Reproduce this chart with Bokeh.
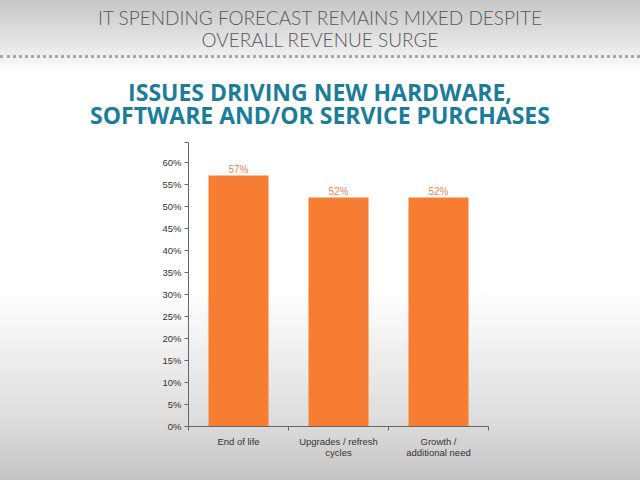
from bokeh.plotting import figure
from bokeh.models import Div, FixedTicker, PrintfTickFormatter, Range1d, ColumnDataSource
from bokeh.layouts import column
from bokeh.core.properties import value
from bokeh.embed import file_html
from bokeh.resources import INLINE

header_lines = ["IT SPENDING FORECAST REMAINS MIXED DESPITE", "OVERALL REVENUE SURGE"]
title_lines = ["ISSUES DRIVING NEW HARDWARE,", "SOFTWARE AND/OR SERVICE PURCHASES"]
categories = ["End of life", "Upgrades / refresh\ncycles", "Growth /\nadditional need"]
values = [57, 52, 52]
value_labels = ["57%", "52%", "52%"]
y_ticks = [0, 5, 10, 15, 20, 25, 30, 35, 40, 45, 50, 55, 60]
y_max = 64.5

BAR = "#F77D32"


def line_div(txt, top, font, size, weight, color, lh):
    return ('<div style="position:absolute;left:0;top:%dpx;width:640px;height:%dpx;'
            'text-align:center;white-space:nowrap;font-family:%s;font-weight:%s;'
            'font-size:%dpx;line-height:%dpx;color:%s;">%s</div>'
            % (top, lh, font, weight, size, lh, color, txt))


header_html = (
    '<div style="position:relative;width:640px;height:62px;">'
    + line_div(header_lines[0], 7, "Lato", 19, "300", "#585858", 22)
    + line_div(header_lines[1], 29, "Lato", 19, "300", "#585858", 22)
    + '<div style="position:absolute;left:0;top:55px;width:640px;height:0;border-top:3px dotted #a8a8a8;"></div>'
    '</div>'
)
title_html = (
    '<div style="position:relative;width:640px;height:68px;">'
    + line_div(title_lines[0], 19, "'Open Sans'", 23, "bold", "#1B7D99", 23)
    + line_div(title_lines[1], 42, "'Open Sans'", 23, "bold", "#1B7D99", 23)
    + '</div>'
)

header = Div(text=header_html, width=640, height=62, styles={"margin": "0", "padding": "0"})
title = Div(text=title_html, width=640, height=68, styles={"margin": "0", "padding": "0"})

xs = [i + 0.5 for i in range(len(categories))]
src = ColumnDataSource(dict(x=xs, top=values, lab=value_labels))

p = figure(width=640, height=350, output_backend="svg", toolbar_location=None,
           x_range=Range1d(0, len(categories)), y_range=Range1d(0, y_max),
           min_border_left=188, min_border_right=152, min_border_top=12, min_border_bottom=54)
p.background_fill_alpha = 0
p.border_fill_alpha = 0
p.outline_line_color = None
p.grid.visible = False

p.vbar(x="x", top="top", width=0.6, bottom=0, source=src, fill_color=BAR, line_color=None)
p.text(x="x", y="top", text="lab", source=src, text_align="center", text_baseline="bottom",
       y_offset=-1, text_font=value("Liberation Sans"), text_font_size="10px", text_color="#F2854A")

yax = p.yaxis[0]
yax.ticker = FixedTicker(ticks=y_ticks + [y_max])
yax.formatter = PrintfTickFormatter(format="%d%%")
yax.major_label_overrides = {y_max: ""}
yax.major_tick_in = 0
yax.major_tick_out = 4
yax.minor_tick_line_color = None
yax.axis_line_color = "#666666"
yax.major_tick_line_color = "#666666"
yax.major_label_text_font = "Liberation Sans"
yax.major_label_text_font_size = "9.5px"
yax.major_label_text_color = "#333333"
yax.major_label_standoff = 3

xax = p.xaxis[0]
xax.ticker = FixedTicker(ticks=xs, minor_ticks=list(range(0, len(categories) + 1)))
xax.major_label_overrides = {x: c for x, c in zip(xs, categories)}
xax.major_tick_line_color = None
xax.minor_tick_in = 0
xax.minor_tick_out = 4
xax.minor_tick_line_color = "#666666"
xax.axis_line_color = "#666666"
xax.major_label_text_font = "Liberation Sans"
xax.major_label_text_font_size = "9.5px"
xax.major_label_text_color = "#333333"
xax.major_label_text_line_height = 1.05
xax.major_label_standoff = 3

layout = column(header, title, p, width=640, height=480, spacing=0,
                styles={"background": "linear-gradient(to bottom, #c6c6c6 0px, #eeeeee 55px, #ffffff 70px, #ffffff 290px, #dddddd 420px, #c4c4c4 480px)"})

open("out.html", "w").write(file_html(layout, INLINE))
